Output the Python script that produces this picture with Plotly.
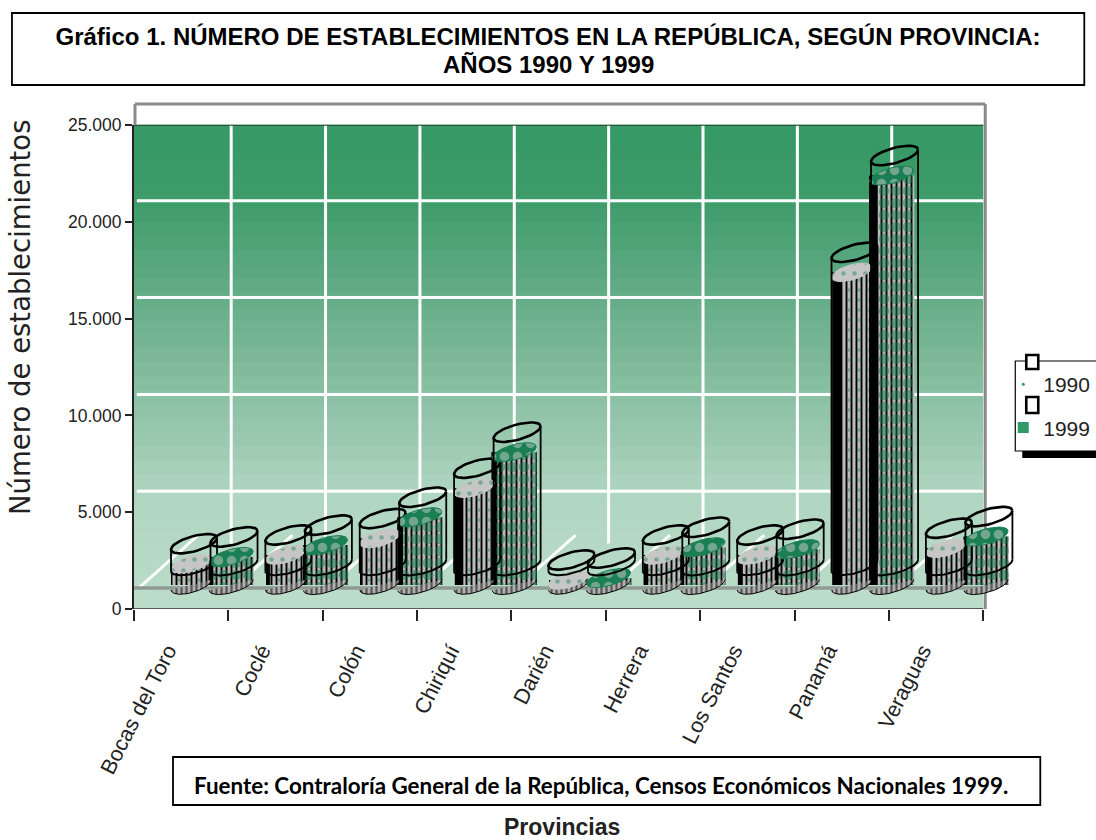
import numpy as np
import plotly.graph_objects as go

provincias = ["Bocas del Toro", "Coclé", "Colón", "Chiriquí", "Darién", "Herrera", "Los Santos", "Panamá", "Veraguas"]
v1990 = [1100, 1550, 2400, 5000, 260, 1550, 1550, 16150, 1900]
v1999 = [1450, 2060, 3500, 6860, 360, 1950, 1850, 21150, 2500]
y_ticks = [0, 5000, 10000, 15000, 20000, 25000]
series_names = ["1990", "1999"]

# layout geometry (pixels of the page)
L, R, T, B = 134, 983, 125, 609
PX_X = (R - L) / 9
PX_Y = (B - T) / 25000
XMAX = 9.4                 # room on the right for the oblique Veraguas cylinders
R2 = L + XMAX * PX_X
FLOOR = 24 / PX_Y          # oblique floor level on which the cylinders stand
WALL0 = 21 / PX_Y          # back wall zero line
SHELL = 20 / PX_Y          # height of the open shell over the value
ARC = 1000                 # fixed lower ring of every shell


def px(x):
    return (x - L) / (R2 - L)


def py(y):
    return (B - y) / (B - T)


TILT = 0.25
BB = 7.8


def ellipse(cx, level, a, half=None, n=40):
    """Tilted ellipse round bar centre cx (axis units) at axis level."""
    t = np.linspace(0, np.pi, n) if half == "lower" else np.linspace(0, 2 * np.pi, n)
    xs = cx + a * np.cos(t) / PX_X
    ys = level + (TILT * a * np.cos(t) - BB * np.sin(t)) / PX_Y
    return xs, ys


fig = go.Figure()

x90 = [i + 0.605 for i in range(9)]
x99 = [i + 1.03 for i in range(9)]
s90 = [i + 0.636 for i in range(9)]
s99 = [i + 1.06 for i in range(9)]
floor_base = [FLOOR] * 9
flank90 = [0.0, 0.04, 0.02, 0.09, 0.0, 0.05, 0.05, 0.10, 0.05]
flank99 = [0.05, 0.03, 0.06, 0.05, 0.0, 0.04, 0.04, 0.09, 0.04]


def add_bars(xs, vals, w, bg, dot, dotsize, dotsolid, flank):
    fig.add_bar(x=xs, y=vals, base=floor_base, width=w, showlegend=False, hoverinfo="skip",
                marker=dict(color=bg, line=dict(width=0),
                            pattern=dict(shape="|", size=5, solidity=0.38, fgcolor="#000000",
                                         bgcolor=bg, fillmode="replace")))
    fig.add_bar(x=xs, y=vals, base=floor_base, width=w, showlegend=False, hoverinfo="skip",
                marker=dict(color="rgba(0,0,0,0)", line=dict(width=0),
                            pattern=dict(shape=".", size=dotsize, solidity=dotsolid, fgcolor=dot,
                                         bgcolor="rgba(0,0,0,0)", fillmode="overlay")))
    # dark left flank of the cylinders
    fig.add_bar(x=[x - w / 2 + f / 2 for x, f in zip(xs, flank)], y=vals, base=floor_base, width=flank,
                showlegend=False, hoverinfo="skip", marker=dict(color="#000000", line=dict(width=0)))


add_bars(x90, v1990, 0.41, "#bcbcbc", "#2a8a5c", 10, 0.1, flank90)
add_bars(x99, v1999, 0.48, "#b8b8b8", "#0f7a4c", 12, 0.6, flank99)


def add_cyl(xs, shell_xs, vals, a, sh_a, surf_bg, surf_fg, solidity, psize):
    for cx, sx, v in zip(xs, shell_xs, vals):
        # bottom of the bar
        ex, ey = ellipse(cx, FLOOR, a, "lower")
        fig.add_scatter(x=ex, y=ey, mode="lines", fill="toself", fillcolor="#b0b0b0",
                        fillpattern=dict(shape="|", size=5, solidity=0.45, fgcolor="#000000", bgcolor="#b0b0b0"),
                        line=dict(color="#000000", width=1), showlegend=False, hoverinfo="skip")
        # value surface
        ex, ey = ellipse(cx, FLOOR + v, a)
        fig.add_scatter(x=ex, y=ey, mode="lines", fill="toself", fillcolor=surf_bg,
                        fillpattern=dict(shape=".", size=psize, solidity=solidity, fgcolor=surf_fg, bgcolor=surf_bg),
                        line=dict(color=surf_bg, width=1), showlegend=False, hoverinfo="skip")
        # open shell above the surface
        top = FLOOR + v + SHELL
        ex, ey = ellipse(sx, top, sh_a)
        fig.add_scatter(x=ex, y=ey, mode="lines", line=dict(color="#000000", width=2.6),
                        showlegend=False, hoverinfo="skip")
        low = FLOOR + ARC
        tilt = TILT * sh_a / PX_Y
        fig.add_scatter(x=[sx - sh_a / PX_X] * 2, y=[low - tilt, top - tilt], mode="lines",
                        line=dict(color="#000000", width=1.8), showlegend=False, hoverinfo="skip")
        fig.add_scatter(x=[sx + sh_a / PX_X] * 2, y=[low + tilt, top + tilt], mode="lines",
                        line=dict(color="#000000", width=1.8), showlegend=False, hoverinfo="skip")
        ex, ey = ellipse(sx, low, sh_a, "lower")
        fig.add_scatter(x=ex, y=ey, mode="lines", line=dict(color="#000000", width=2.0),
                        showlegend=False, hoverinfo="skip")


add_cyl(x90, s90, v1990, 20, 23, "#c6c6c6", "#2a8a5c", 0.14, 11)
add_cyl(x99, s99, v1999, 22, 23.5, "#1a7f52", "#cccccc", 0.42, 13)

# legend keys
fig.add_scatter(x=[None], y=[None], mode="markers", name=series_names[0], legendgroup="a",
                marker=dict(symbol="circle", size=3, color="#2f9a68"))
fig.add_scatter(x=[None], y=[None], mode="markers", name=series_names[1], legendgroup="b",
                marker=dict(symbol="square", size=11, color="#2f9a68"))

shapes = []
# banded background of the wall
stop_y = [125, 200, 350, 460, 490, 609]
stop_r = [0x35, 0x3F, 0x7A, 0xA3, 0xAF, 0xBC]
stop_g = [0x9A, 0x9C, 0xB7, 0xCE, 0xD6, 0xDD]
stop_b = [0x65, 0x6B, 0x97, 0xB6, 0xC1, 0xCA]
band = 14  # pixels
for y0 in range(T, B, band):
    y1 = min(y0 + band, B)
    c = [int(np.interp(y0 + band / 2, stop_y, s)) for s in (stop_r, stop_g, stop_b)]
    shapes.append(dict(type="rect", layer="below", xref="x", yref="paper", x0=0, x1=9,
                       y0=py(y0 - 0.5), y1=py(y1), fillcolor="rgb(%d,%d,%d)" % tuple(c), line=dict(width=0)))
# wall grid
for t in y_ticks[1:-1]:
    shapes.append(dict(type="line", layer="below", xref="x", yref="y", x0=0.03, x1=9, y0=t + WALL0, y1=t + WALL0,
                       line=dict(color="#ffffff", width=3)))
for i in range(1, 9):
    shapes.append(dict(type="line", layer="below", xref="x", yref="y", x0=i + 0.03, x1=i + 0.03,
                       y0=WALL0 + 2300, y1=25000, line=dict(color="#ffffff", width=3)))
for i in range(0, 9):
    shapes.append(dict(type="line", layer="below", xref="x", yref="y", x0=i + 0.05, x1=i + 0.68,
                       y0=WALL0, y1=WALL0 + 2737, line=dict(color="#ffffff", width=3)))
shapes.append(dict(type="line", layer="below", xref="x", yref="y", x0=0, x1=9, y0=WALL0, y1=WALL0,
                   line=dict(color="#8f9a94", width=3.5)))
# top and bottom axis edges, outer frame
for level in (0, 25000):
    shapes.append(dict(type="line", layer="below", xref="x", yref="y", x0=0, x1=9, y0=level, y1=level,
                       line=dict(color="#333333", width=1.6)))
gray = dict(color="#8a8a8a", width=3)
for a_, b_, c_, d_ in [(135, 104, 985, 104), (135, 104, 135, 125), (985, 104, 985, 609)]:
    shapes.append(dict(type="line", layer="below", xref="paper", yref="paper",
                       x0=px(a_), x1=px(c_), y0=py(b_), y1=py(d_), line=gray))
# title box, source box
shapes.append(dict(type="rect", xref="paper", yref="paper", x0=px(12), x1=px(1084), y0=py(13), y1=py(85),
                   line=dict(color="#000000", width=1.8), fillcolor="rgba(0,0,0,0)"))
shapes.append(dict(type="rect", xref="paper", yref="paper", x0=px(173), x1=px(1040), y0=py(757), y1=py(805),
                   line=dict(color="#000000", width=1.8), fillcolor="#ffffff"))
# legend frame
shapes.append(dict(type="rect", xref="paper", yref="paper", x0=px(1022), x1=px(1096), y0=py(380), y1=py(458),
                   line=dict(width=0), fillcolor="#000000"))
shapes.append(dict(type="rect", xref="paper", yref="paper", x0=px(1015), x1=px(1100), y0=py(361), y1=py(451),
                   line=dict(color="#000000", width=1.2), fillcolor="#ffffff"))
for y0_, y1_ in [(355, 369), (397, 413)]:
    shapes.append(dict(type="rect", xref="paper", yref="paper", x0=px(1026), x1=px(1038), y0=py(y0_), y1=py(y1_),
                       line=dict(color="#000000", width=2.6), fillcolor="#ffffff"))

annotations = [
    dict(xref="paper", yref="paper", x=px(601), y=py(785), yanchor="middle", xanchor="center", showarrow=False,
         text="<b>Fuente: Contraloría General de la República, Censos Económicos Nacionales 1999.</b>",
         font=dict(family="Lato", size=22.4, color="#000000")),
    dict(xref="paper", yref="paper", x=px(548), y=py(64), yanchor="middle", xanchor="center", showarrow=False,
         text="<b>AÑOS 1990 Y 1999</b>", font=dict(family="Liberation Sans", size=24, color="#000000")),
    dict(xref="paper", yref="paper", x=px(562), y=py(827), yanchor="middle", xanchor="center", showarrow=False,
         text="<b>Provincias</b>", font=dict(family="Liberation Sans", size=23, color="#222222")),
    dict(xref="paper", yref="paper", x=px(20), y=py(317), yanchor="middle", xanchor="center", showarrow=False,
         textangle=-90, text="Número de establecimientos",
         font=dict(family="DejaVu Sans", size=27.5, color="#222222")),
]

fig.update_layout(
    width=1096, height=840,
    margin=dict(l=L, r=1096 - R2, t=T, b=840 - B, autoexpand=False),
    paper_bgcolor="#ffffff", plot_bgcolor="rgba(0,0,0,0)",
    barmode="overlay", separators=",.",
    font=dict(family="Liberation Sans", color="#111111"),
    title=dict(text="<b>Gráfico 1. NÚMERO DE ESTABLECIMIENTOS EN LA REPÚBLICA, SEGÚN PROVINCIA:</b>",
               font=dict(family="Liberation Sans", size=24, color="#000000"),
               x=548 / 1096, xanchor="center", y=1 - 37 / 840, yanchor="middle"),
    xaxis=dict(range=[0, XMAX], tickmode="array", tickvals=[i + 0.355 for i in range(9)],
               ticktext=provincias, tickangle=-63, ticks="", showgrid=False,
               tickfont=dict(family="Liberation Sans", size=21.5, color="#222222"), ticklabelstandoff=24,
               showline=False, zeroline=False,
               minor=dict(tickmode="array", tickvals=list(range(10)), ticks="outside", ticklen=11,
                          tickcolor="#222222", tickwidth=1.6, showgrid=False)),
    yaxis=dict(range=[0, 25000], tickmode="array", tickvals=y_ticks, tickformat=",d", showgrid=False,
               ticks="outside", ticklen=7, tickcolor="#222222", tickwidth=1.6, zeroline=False,
               showline=True, linecolor="#222222", linewidth=2,
               tickfont=dict(family="Liberation Sans", size=17.5, color="#222222")),
    legend=dict(x=px(1003), y=py(364), xanchor="left", yanchor="top", bgcolor="rgba(0,0,0,0)", borderwidth=0,
                tracegroupgap=13, font=dict(family="Liberation Sans", size=21, color="#222222"),
                itemwidth=30),
    shapes=shapes, annotations=annotations, showlegend=True,
)

fig.write_html("out.html", config=dict(displayModeBar=False),
               post_script="document.body.style.margin='0';document.body.style.overflow='hidden';")
